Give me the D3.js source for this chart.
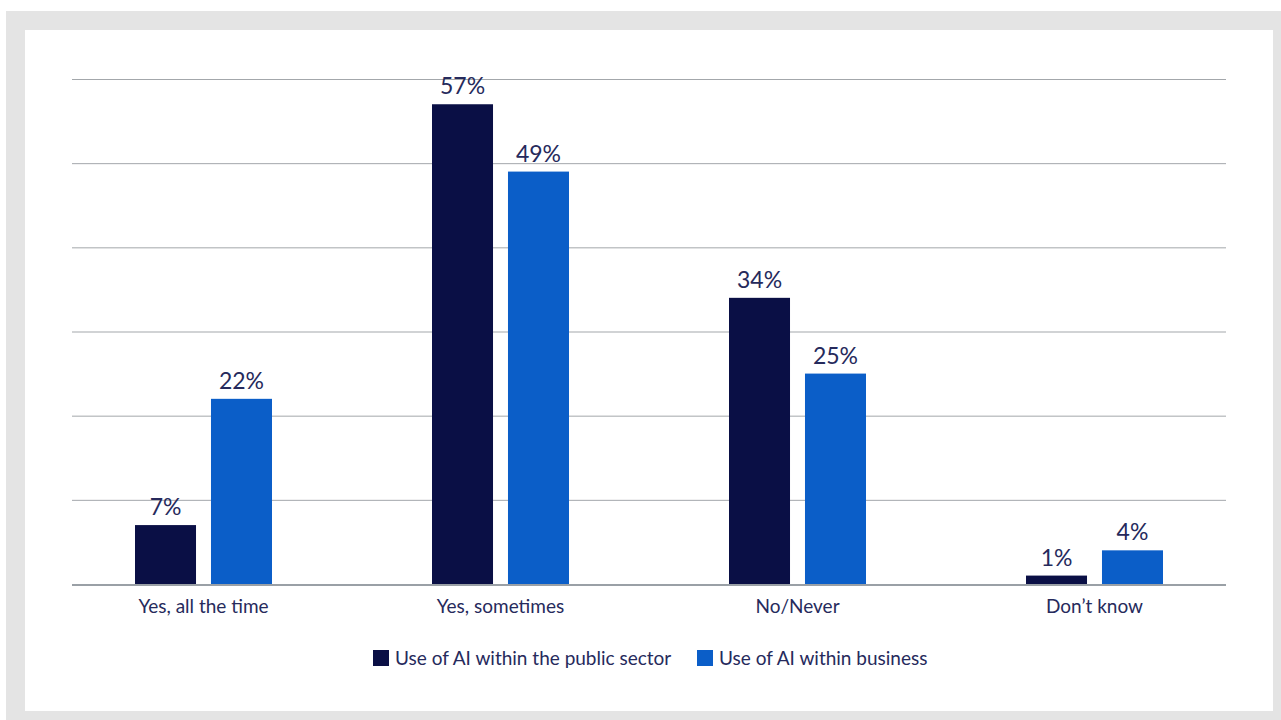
<!DOCTYPE html>
<html>
<head>
<meta charset="utf-8">
<script src="https://cdn.jsdelivr.net/npm/d3@7"></script>
<style>
  html, body { margin: 0; padding: 0; background: #ffffff; }
  svg { display: block; font-family: Lato, "Open Sans", sans-serif; }
</style>
</head>
<body>
<svg id="chart" width="1281" height="720"></svg>
<script>
// Survey responses: how often AI is used, by sector
const categories = ["Yes, all the time", "Yes, sometimes", "No/Never", "Don\u2019t know"];
const seriesNames = ["Use of AI within the public sector", "Use of AI within business"];
const publicSector = [7, 57, 34, 1];
const business = [22, 49, 25, 4];
const gridTicks = [0, 10, 20, 30, 40, 50, 60];

const colors = ["#0a0f45", "#0b5ec8"];
const textColor = "#262a5c";

const svg = d3.select("#chart");

// Outer grey frame with white panel
svg.append("rect").attr("x", 6).attr("y", 11).attr("width", 1275).attr("height", 709).attr("fill", "#e4e4e4");
svg.append("rect").attr("x", 25).attr("y", 30).attr("width", 1248).attr("height", 681).attr("fill", "#ffffff");

const gridLeft = 72, gridRight = 1226;
const y = d3.scaleLinear().domain([0, 60]).range([584, 79]);
const x0 = d3.scaleBand().domain(categories).range([55, 1243]).paddingInner(0).paddingOuter(0);
const x1 = d3.scaleBand().domain([0, 1]).range([-68.5, 68.5]).paddingInner(0.197).paddingOuter(0);

// Horizontal gridlines
svg.append("g").selectAll("line")
  .data(gridTicks.filter(t => t > 0))
  .join("line")
  .attr("x1", gridLeft).attr("x2", gridRight)
  .attr("y1", d => y(d) + 0.5).attr("y2", d => y(d) + 0.5)
  .attr("stroke", "#a3a7ab").attr("stroke-width", 1);

const rows = categories.map((c, i) => ({ cat: c, vals: [publicSector[i], business[i]] }));

const groups = svg.append("g").selectAll("g")
  .data(rows)
  .join("g")
  .attr("transform", d => `translate(${x0(d.cat) + x0.bandwidth() / 2},0)`);

groups.selectAll("rect")
  .data(d => d.vals.map((v, k) => ({ v, k })))
  .join("rect")
  .attr("x", d => x1(d.k))
  .attr("width", x1.bandwidth())
  .attr("y", d => y(d.v))
  .attr("height", d => y(0) - y(d.v))
  .attr("fill", d => colors[d.k]);

groups.selectAll("text.val")
  .data(d => d.vals.map((v, k) => ({ v, k })))
  .join("text")
  .attr("class", "val")
  .attr("x", d => x1(d.k) + x1.bandwidth() / 2)
  .attr("y", d => y(d.v) - 10)
  .attr("text-anchor", "middle")
  .attr("font-size", 23)
  .attr("fill", textColor)
  .text(d => d.v + "%");

// Baseline axis with category labels
const xAxis = d3.axisBottom(x0).tickSize(0).tickPadding(0);
const axisG = svg.append("g").attr("transform", `translate(0,${y(0)})`).call(xAxis);
axisG.select(".domain").remove();
axisG.selectAll("text")
  .attr("y", 29).attr("dy", 0)
  .attr("font-size", 19)
  .attr("font-family", "Lato, 'Open Sans', sans-serif")
  .attr("fill", textColor);
svg.append("line")
  .attr("x1", gridLeft).attr("x2", gridRight)
  .attr("y1", y(0) + 1).attr("y2", y(0) + 1)
  .attr("stroke", "#9aa0a6").attr("stroke-width", 2);

// Legend
const legend = svg.append("g").attr("transform", "translate(0,658)");
const legendX = [373, 697];
seriesNames.forEach((name, k) => {
  legend.append("rect").attr("x", legendX[k]).attr("y", -8).attr("width", 16).attr("height", 16).attr("fill", colors[k]);
  legend.append("text").attr("x", legendX[k] + 22).attr("y", 7)
    .attr("font-size", 19).attr("fill", textColor).text(name);
});
</script>
</body>
</html>
